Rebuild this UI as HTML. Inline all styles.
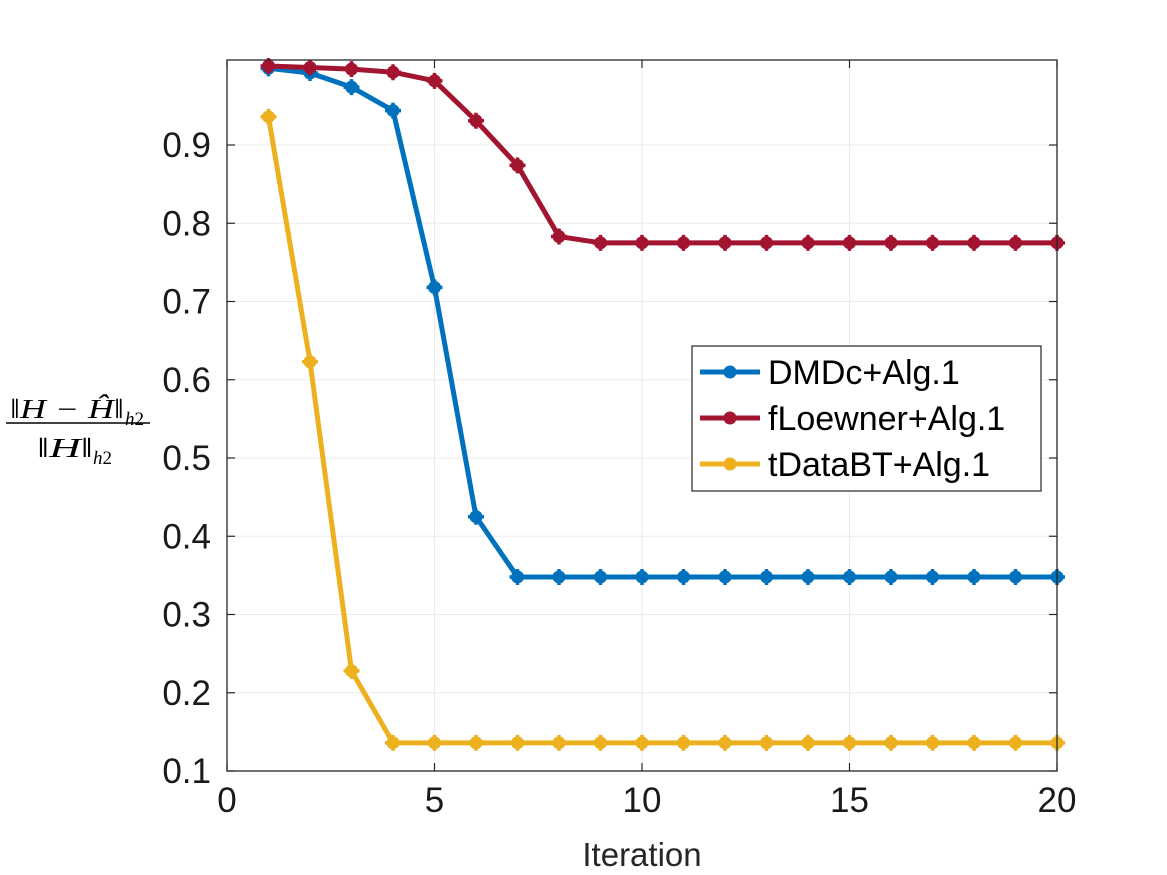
<!DOCTYPE html>
<html><head><meta charset="utf-8"><style>
body{margin:0;background:#fff;}
svg{display:block;font-family:"Liberation Sans",sans-serif;}
</style></head><body>
<svg id="chart" width="1167" height="875" viewBox="0 0 1167 875">
<rect width="1167" height="875" fill="#fff"/>
<g id="grid"></g>
<g id="series"></g>
<rect x="227" y="60" width="830" height="711" fill="none" stroke="#262626" stroke-width="1.3"/>
<g id="ticks"></g>
<text x="642" y="866" text-anchor="middle" font-size="33" fill="#262626">Iteration</text>
<g style="font-family:'Liberation Serif',serif;" fill="#000">
<text x="10" y="418" style="font-size:27px;font-style:italic" textLength="114" lengthAdjust="spacingAndGlyphs">‖H − Ĥ‖</text>
<text x="125" y="425" style="font-size:19px"><tspan font-style="italic">h</tspan>2</text>
<line x1="6" y1="423" x2="150" y2="423" stroke="#000" stroke-width="1.4"/>
<text x="37" y="457" style="font-size:27px;font-style:italic" textLength="56" lengthAdjust="spacingAndGlyphs">‖H‖</text>
<text x="93" y="464" style="font-size:19px"><tspan font-style="italic">h</tspan>2</text>
</g>
<g id="legend">
<rect x="692" y="346" width="349" height="145" fill="#fff" stroke="#262626" stroke-width="1.2"/>
</g>
</svg>
<script>
const iterations=[1,2,3,4,5,6,7,8,9,10,11,12,13,14,15,16,17,18,19,20];
const dmdc=[0.998,0.992,0.974,0.944,0.718,0.425,0.348,0.348,0.348,0.348,0.348,0.348,0.348,0.348,0.348,0.348,0.348,0.348,0.348,0.348];
const floewner=[1.001,0.999,0.997,0.993,0.982,0.931,0.874,0.783,0.775,0.775,0.775,0.775,0.775,0.775,0.775,0.775,0.775,0.775,0.775,0.775];
const tdatabt=[0.936,0.623,0.228,0.136,0.136,0.136,0.136,0.136,0.136,0.136,0.136,0.136,0.136,0.136,0.136,0.136,0.136,0.136,0.136,0.136];
const seriesNames=["DMDc+Alg.1","fLoewner+Alg.1","tDataBT+Alg.1"];
const xTicks=[0,5,10,15,20];
const yTicks=[0.1,0.2,0.3,0.4,0.5,0.6,0.7,0.8,0.9];
const colors=["#0072BD","#A2142F","#EDB120"];
const NS="http://www.w3.org/2000/svg";
const X=v=>227+v*41.5;
const Y=v=>771-(v-0.1)*782.5;
function mk(tag,attrs,parent){const e=document.createElementNS(NS,tag);for(const k in attrs)e.setAttribute(k,attrs[k]);parent.appendChild(e);return e;}
const grid=document.getElementById('grid'),ticks=document.getElementById('ticks'),ser=document.getElementById('series'),leg=document.getElementById('legend');
xTicks.forEach(t=>{
  if(t>0&&t<20){const l=mk('line',{x1:X(t),x2:X(t),y1:60,y2:771,stroke:'#ebebeb','stroke-width':1},grid);
  
  }
  mk('line',{x1:X(t),x2:X(t),y1:771,y2:763,stroke:'#262626','stroke-width':1.2},ticks);
  mk('line',{x1:X(t),x2:X(t),y1:60,y2:68,stroke:'#262626','stroke-width':1.2},ticks);
  const tx=mk('text',{x:X(t),y:812,'text-anchor':'middle','font-size':35,fill:'#1a1a1a'},ticks);tx.textContent=t;
  
  
});
yTicks.forEach(t=>{
  const l=mk('line',{x1:227,x2:1057,y1:Y(t),y2:Y(t),stroke:'#ebebeb','stroke-width':1},grid);
  
  
  mk('line',{x1:227,x2:235,y1:Y(t),y2:Y(t),stroke:'#262626','stroke-width':1.2},ticks);
  mk('line',{x1:1057,x2:1049,y1:Y(t),y2:Y(t),stroke:'#262626','stroke-width':1.2},ticks);
  const tx=mk('text',{x:211,y:Y(t)+12,'text-anchor':'end','font-size':35,fill:'#1a1a1a'},ticks);tx.textContent=t.toFixed(1);
  
  
});
[dmdc,floewner,tdatabt].forEach((vals,i)=>{
  const g=mk('g',{},ser);
  
  
  mk('polyline',{points:vals.map((v,j)=>X(iterations[j])+','+Y(v)).join(' '),fill:'none',stroke:colors[i],'stroke-width':5,'stroke-linejoin':'round'},g);
  vals.forEach((v,j)=>{
    const c=mk('circle',{cx:X(iterations[j]),cy:Y(v),r:6.5,fill:colors[i]},g);
    
    
    mk('path',{d:`M${X(iterations[j])-8},${Y(v)}h16M${X(iterations[j])},${Y(v)-8}v16`,stroke:colors[i],'stroke-width':3.5},g);
  });
  const ly=372+i*46;
  const le=mk('g',{},leg);
  
  
  mk('line',{x1:700,x2:760,y1:ly,y2:ly,stroke:colors[i],'stroke-width':5},le);
  mk('circle',{cx:730,cy:ly,r:6.5,fill:colors[i]},le);
  const t=mk('text',{x:768,y:ly+12,'font-size':34,fill:'#000'},le);t.textContent=seriesNames[i];
});
</script>
</body></html>
